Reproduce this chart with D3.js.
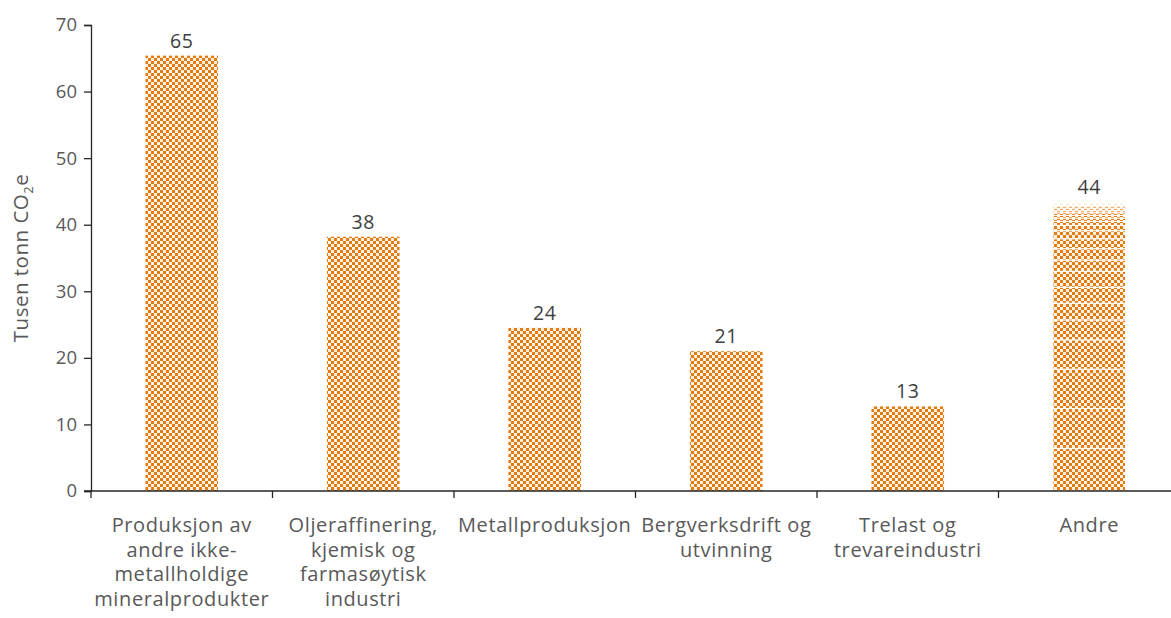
<!DOCTYPE html>
<html>
<head>
<meta charset="utf-8">
<script src="https://cdn.jsdelivr.net/npm/d3@7"></script>
<style>
  body { margin: 0; background: #fff; }
  text { font-family: "Open Sans", sans-serif; }
</style>
</head>
<body>
<div id="chart"></div>
<script>
// categories (wrapped as in the original)
var categories = ["Produksjon av andre ikke-metallholdige mineralprodukter",
    "Oljeraffinering, kjemisk og farmasøytisk industri",
    "Metallproduksjon", "Bergverksdrift og utvinning",
    "Trelast og trevareindustri", "Andre"];
var categoryLines = [
    ["Produksjon av", "andre ikke-", "metallholdige", "mineralprodukter"],
    ["Oljeraffinering,", "kjemisk og", "farmasøytisk", "industri"],
    ["Metallproduksjon"],
    ["Bergverksdrift og", "utvinning"],
    ["Trelast og", "trevareindustri"],
    ["Andre"]
];
var values = [65.4, 38.2, 24.5, 21.0, 12.7, null];
// "Andre" is a stack of many small contributors
var andreParts = [6.4, 6.0, 5.9, 4.4, 3.0, 2.5, 2.4, 2.4, 1.7, 1.7, 1.5, 1.2,
    0.8, 0.6, 0.5, 0.4, 0.4, 0.3, 0.3, 0.3, 0.2, 0.2, 0.15, 0.15, 0.1, 0.1, 0.1, 0.1];
var dataLabels = ["65", "38", "24", "21", "13", "44"];
var labelValues = [65.4, 38.2, 24.5, 21.0, 12.7, 44];
var yTicks = [0, 10, 20, 30, 40, 50, 60, 70];

var W = 1171, H = 618;
var margin = { top: 25, right: -9, bottom: 127, left: 91 };
var width = W - margin.left - margin.right,
    height = H - margin.top - margin.bottom;

var svg = d3.select("#chart").append("svg")
    .attr("width", W)
    .attr("height", H)
    .style("display", "block");

// checkerboard fill
var defs = svg.append("defs");
var pat = defs.append("pattern")
    .attr("id", "checker")
    .attr("patternUnits", "userSpaceOnUse")
    .attr("width", 6).attr("height", 6);
pat.append("rect").attr("width", 6).attr("height", 6).attr("fill", "#fdf1e4");
pat.append("rect").attr("x", 0).attr("y", 0).attr("width", 3).attr("height", 3).attr("fill", "#e07c12");
pat.append("rect").attr("x", 3).attr("y", 3).attr("width", 3).attr("height", 3).attr("fill", "#e07c12");

var g = svg.append("g")
    .attr("transform", "translate(" + margin.left + "," + margin.top + ")");

var x = d3.scaleBand()
    .domain(categories)
    .range([0, width])
    .paddingInner(0.6)
    .paddingOuter(0.3);

var xb = d3.scaleBand().domain(categories).range([0, width]);

var y = d3.scaleLinear()
    .domain([0, 70])
    .range([height, 0]);

// bars
categories.forEach(function (c, i) {
    if (values[i] === null) return;
    g.append("rect")
        .attr("x", x(c))
        .attr("y", y(values[i]))
        .attr("width", x.bandwidth())
        .attr("height", y(0) - y(values[i]))
        .attr("fill", "url(#checker)");
});

// stacked "Andre"
var cum = 0;
andreParts.forEach(function (v) {
    g.append("rect")
        .attr("x", x("Andre"))
        .attr("y", y(cum + v))
        .attr("width", x.bandwidth())
        .attr("height", y(cum) - y(cum + v))
        .attr("fill", "url(#checker)")
        .attr("stroke", "#fff")
        .attr("stroke-width", 1);
    cum += v;
});

// data labels
categories.forEach(function (c, i) {
    g.append("text")
        .attr("x", x(c) + x.bandwidth() / 2)
        .attr("y", y(labelValues[i]) - (values[i] === null ? 4 : 8))
        .attr("text-anchor", "middle")
        .attr("font-size", 19.5)
        .attr("letter-spacing", 0.5)
        .attr("fill", "#404040")
        .text(dataLabels[i]);
});

// y axis
var yAxis = d3.axisLeft(y).tickValues(yTicks).tickSize(7).tickPadding(7);
var ya = g.append("g").call(yAxis);
ya.select(".domain").attr("stroke", "#262626").attr("stroke-width", 1.3);
ya.selectAll(".tick line").attr("stroke", "#262626").attr("stroke-width", 1.3);
ya.selectAll(".tick text").attr("font-size", 18.5).attr("fill", "#595959")
    .style("font-family", "'Open Sans', sans-serif");

// x axis line with boundary ticks
var xLine = g.append("g");
xLine.append("line")
    .attr("x1", -7).attr("x2", width)
    .attr("y1", y(0)).attr("y2", y(0))
    .attr("stroke", "#262626").attr("stroke-width", 1.3);
categories.forEach(function (c) {
    xLine.append("line")
        .attr("x1", xb(c)).attr("x2", xb(c))
        .attr("y1", y(0)).attr("y2", y(0) + 7)
        .attr("stroke", "#262626").attr("stroke-width", 1.3);
});

// category labels
categories.forEach(function (c, i) {
    var t = g.append("text")
        .attr("x", xb(c) + xb.bandwidth() / 2)
        .attr("y", y(0) + 41)
        .attr("text-anchor", "middle")
        .attr("font-size", 20)
        .attr("letter-spacing", 0.6)
        .attr("fill", "#595959");
    categoryLines[i].forEach(function (line, j) {
        t.append("tspan")
            .attr("x", xb(c) + xb.bandwidth() / 2)
            .attr("dy", j === 0 ? 0 : 24.5)
            .text(line);
    });
});

// y axis title
var yt = svg.append("text")
    .attr("transform", "translate(28," + (margin.top + height / 2) + ") rotate(-90)")
    .attr("text-anchor", "middle")
    .attr("font-size", 20.5)
    .attr("letter-spacing", 0.5)
    .attr("fill", "#595959");
yt.append("tspan").text("Tusen tonn CO");
yt.append("tspan").attr("font-size", 13).attr("dy", 5).text("2");
yt.append("tspan").attr("dy", -5).text("e");
</script>
</body>
</html>
